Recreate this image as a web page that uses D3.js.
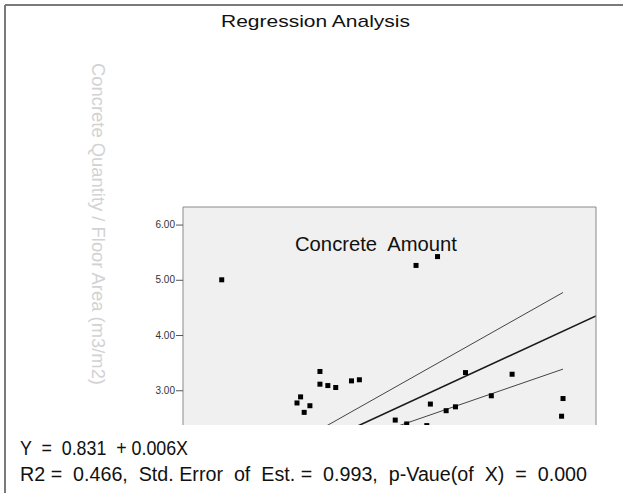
<!DOCTYPE html>
<html>
<head>
<meta charset="utf-8">
<script src="https://cdn.jsdelivr.net/npm/d3@7"></script>
<style>
  body { margin: 0; background: #fff; }
  svg { display: block; }
  text { font-family: "Liberation Sans", Arial, sans-serif; white-space: pre; }
</style>
</head>
<body>
<script>
// observed values (X = concrete amount basis, Y = response)
var pointX = [64, 201, 201, 212, 223, 245, 256, 174, 169, 187, 179,
              335, 365, 404, 469, 355, 377, 390, 440, 540, 538, 306, 322, 350];
var pointY = [5.00, 3.34, 3.11, 3.085, 3.05, 3.17, 3.19, 2.88, 2.77, 2.72, 2.60,
              5.26, 5.42, 3.32, 3.29, 2.75, 2.63, 2.70, 2.90, 2.85, 2.53, 2.46, 2.39, 2.36];

// fitted line Y = a + bX
var fitA = 0.831;
var fitB = 0.006;
var fitRange = [10, 586];

// upper / lower band end points [X, Y]
var upperBand = [[150, 1.915], [540, 4.77]];
var lowerBand = [[150, 1.636], [540, 3.383]];

var yTicks = [3, 4, 5, 6];

var chartTitle = "Regression Analysis";
var seriesLabel = "Concrete  Amount";
var yLabel = "Concrete Quantity / Floor Area (m3/m2)";
var eqLine1 = "Y  =  0.831  + 0.006X";
var eqLine2 = "R2 =  0.466,  Std. Error  of  Est. =  0.993,  p-Vaue(of  X)  =  0.000";

var width = 623, height = 493;
var plot = { left: 183, right: 596, top: 207, bottom: 425 };

var svg = d3.select("body").append("svg")
    .attr("width", width)
    .attr("height", height);

// outer frame (top and left only are visible)
svg.append("line")
    .attr("x1", 5).attr("y1", 5).attr("x2", width).attr("y2", 5)
    .attr("stroke", "#7a7a7a").attr("stroke-width", 2);
svg.append("line")
    .attr("x1", 5).attr("y1", 5).attr("x2", 5).attr("y2", height)
    .attr("stroke", "#7a7a7a").attr("stroke-width", 2);

svg.append("text")
    .attr("x", 221).attr("y", 27)
    .attr("font-size", 17)
    .attr("textLength", 189)
    .attr("lengthAdjust", "spacingAndGlyphs")
    .attr("fill", "#111")
    .text(chartTitle);

// faded rotated axis title
svg.append("text")
    .attr("transform", "translate(92,63) rotate(90)")
    .attr("font-size", 19)
    .attr("textLength", 322)
    .attr("lengthAdjust", "spacingAndGlyphs")
    .attr("fill", "#d2d2d2")
    .text(yLabel);

var x = d3.scaleLinear().domain(fitRange).range([plot.left, plot.right]);
var y = d3.scaleLinear().domain([2.371, 6.318]).range([plot.bottom, plot.top]);

svg.append("rect")
    .attr("x", plot.left).attr("y", plot.top)
    .attr("width", plot.right - plot.left)
    .attr("height", plot.bottom - plot.top)
    .attr("fill", "#f0f0f0");

svg.append("clipPath").attr("id", "clip")
    .append("rect")
    .attr("x", plot.left).attr("y", plot.top)
    .attr("width", plot.right - plot.left)
    .attr("height", plot.bottom - plot.top);

var g = svg.append("g").attr("clip-path", "url(#clip)");

var line = d3.line()
    .x(function (d) { return x(d[0]); })
    .y(function (d) { return y(d[1]); });

g.append("path")
    .datum(upperBand)
    .attr("d", line)
    .attr("fill", "none")
    .attr("stroke", "#444")
    .attr("stroke-width", 1);

g.append("path")
    .datum(lowerBand)
    .attr("d", line)
    .attr("fill", "none")
    .attr("stroke", "#444")
    .attr("stroke-width", 1);

g.append("path")
    .datum(fitRange.map(function (v) { return [v, fitA + fitB * v]; }))
    .attr("d", line)
    .attr("fill", "none")
    .attr("stroke", "#1a1a1a")
    .attr("stroke-width", 1.6);

g.selectAll("rect.pt")
    .data(pointX.map(function (v, i) { return [v, pointY[i]]; }))
    .enter()
    .append("rect")
    .attr("class", "pt")
    .attr("x", function (d) { return x(d[0]) - 2.5; })
    .attr("y", function (d) { return y(d[1]) - 2.5; })
    .attr("width", 5)
    .attr("height", 5)
    .attr("fill", "#000");

// plot border (bottom is cut off by the text box)
svg.append("path")
    .attr("d", "M" + plot.left + "," + plot.bottom + "V" + plot.top + "H" + plot.right + "V" + plot.bottom)
    .attr("fill", "none")
    .attr("stroke", "#8a8a8a")
    .attr("stroke-width", 1);

var yAxis = d3.axisLeft(y)
    .tickValues(yTicks)
    .tickSize(7)
    .tickSizeOuter(0)
    .tickFormat(d3.format(".2f"));

var ax = svg.append("g")
    .attr("transform", "translate(" + plot.left + ",0)")
    .call(yAxis);
ax.select(".domain").remove();
ax.selectAll(".tick line").attr("stroke", "#555");
ax.selectAll(".tick text")
    .attr("font-size", 10)
    .attr("fill", "#333")
    .attr("x", -8)
    .style("font-family", "'Liberation Sans', Arial, sans-serif");

svg.append("text")
    .attr("x", 295).attr("y", 251)
    .attr("font-size", 20)
    .attr("textLength", 162)
    .attr("lengthAdjust", "spacingAndGlyphs")
    .attr("fill", "#111")
    .text(seriesLabel);

svg.append("text")
    .attr("x", 20).attr("y", 455)
    .attr("font-size", 20)
    .attr("textLength", 168)
    .attr("lengthAdjust", "spacingAndGlyphs")
    .attr("fill", "#111")
    .text(eqLine1);

svg.append("text")
    .attr("x", 20).attr("y", 481)
    .attr("font-size", 20)
    .attr("textLength", 567)
    .attr("lengthAdjust", "spacingAndGlyphs")
    .attr("fill", "#111")
    .text(eqLine2);
</script>
</body>
</html>
